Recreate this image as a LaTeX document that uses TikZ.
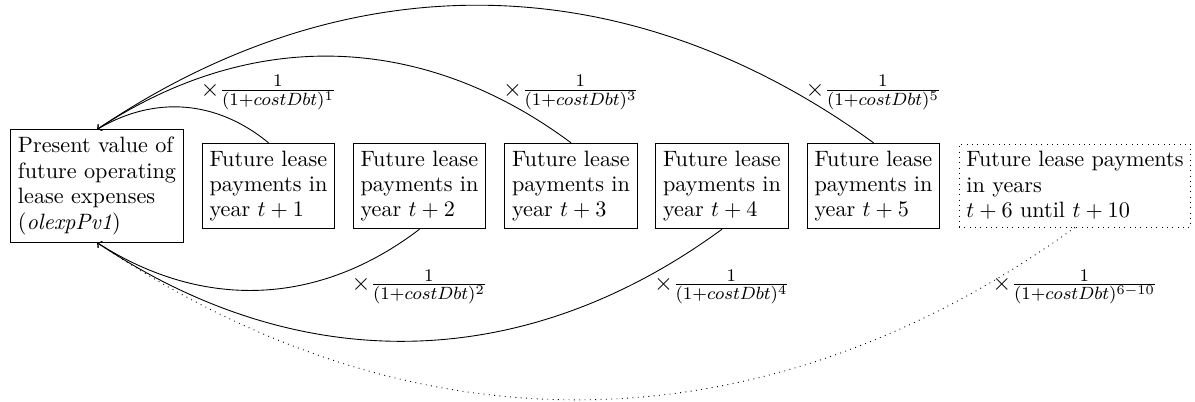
\documentclass[tikz,border=0pt]{standalone}
\begin{document}
\begin{tikzpicture}[x=0.4505pt,y=0.4505pt,
  box/.style={draw, align=left, inner sep=3.33pt, font=\fontsize{10}{11.45}\selectfont},
  lab/.style={inner sep=1pt, font=\fontsize{11.1}{13}\selectfont},
  arr/.style={->}]
\useasboundingbox (0,0) rectangle (1195,-401);
\node[box] (b1) at (97,-186) {Present value of\\future operating\\lease expenses\\(\textit{olexpPv1})};
\node[box] (b2) at (268.5,-186) {Future lease\\payments in\\year $t+1$};
\node[box] (b3) at (419.5,-186) {Future lease\\payments in\\year $t+2$};
\node[box] (b4) at (571,-186) {Future lease\\payments in\\year $t+3$};
\node[box] (b5) at (722,-186) {Future lease\\payments in\\year $t+4$};
\node[box] (b6) at (873.5,-186) {Future lease\\payments in\\year $t+5$};
\node[box, dotted] (b7) at (1075,-185.5) {Future lease payments\\in years\\$t+6$ until $t+10$};
\node[lab] (l1) at (268.5,-92.5) {$\times\frac{1}{(1+costDbt)^1}$};
\node[lab] (l3) at (571,-92.5) {$\times\frac{1}{(1+costDbt)^3}$};
\node[lab] (l5) at (873.5,-92.5) {$\times\frac{1}{(1+costDbt)^5}$};
\node[lab] (l2) at (419.5,-287) {$\times\frac{1}{(1+costDbt)^2}$};
\node[lab] (l4) at (722,-287) {$\times\frac{1}{(1+costDbt)^4}$};
\node[lab] (l6) at (1075,-287) {$\times\frac{1}{(1+costDbt)^{6-10}}$};
\draw[arr] (b2.north) to[bend right=35] (b1.north);
\draw[arr] (b4.north) to[bend right=35] (b1.north);
\draw[arr] (b6.north) to[bend right=35] (b1.north);
\draw[arr] (b3.south) to[bend left=35] (b1.south);
\draw[arr] (b5.south) to[bend left=35] (b1.south);
\draw[arr, dotted] (b7.south) to[bend left=35] (b1.south);
\end{tikzpicture}
\end{document}
